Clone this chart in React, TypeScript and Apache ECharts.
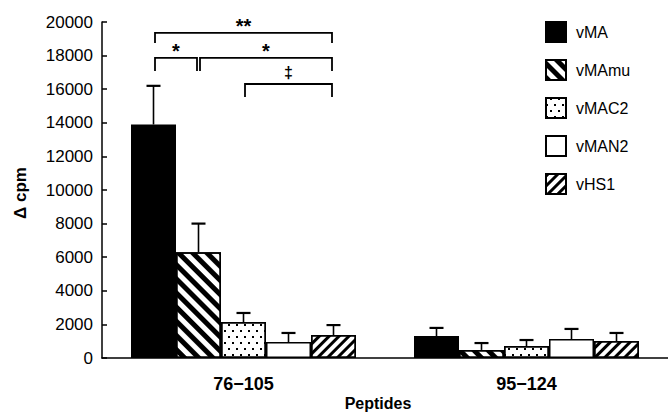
import React, { useEffect, useRef } from "react";
import * as echarts from "echarts";

const categories = ["76\u2212105", "95\u2212124"];
const seriesNames = ["vMA", "vMAmu", "vMAC2", "vMAN2", "vHS1"];
const vMA = [13900, 1310];
const vMAmu = [6300, 480];
const vMAC2 = [2140, 710];
const vMAN2 = [950, 1130];
const vHS1 = [1370, 1010];
const vMAErrTop = [16200, 1790];
const vMAmuErrTop = [8000, 890];
const vMAC2ErrTop = [2680, 1070];
const vMAN2ErrTop = [1490, 1730];
const vHS1ErrTop = [1960, 1490];
const yTicks = [0, 20000, 2000];
// significance brackets: [category, fromBar, toBar, level, tickBottom]
const bracketLevels = [
  [0, 0, 4, 19350, 18750],
  [0, 0, 1, 17860, 17080],
  [0, 1, 4, 17860, 17080],
  [0, 2, 4, 16310, 15540],
];
const bracketLabels = ["**", "*", "*", "\u2021"];

const BAR_W = 45;
const FONT = "Liberation Sans, Arial, sans-serif";

const decals: any[] = [
  null,
  { symbol: "rect", symbolSize: 1, color: "#000", backgroundColor: "#fff", dashArrayX: [1, 0], dashArrayY: [5, 5], rotation: Math.PI / 4 },
  { symbol: "rect", symbolSize: 1, color: "#000", backgroundColor: "#fff", dashArrayX: [[2, 6], [0, 4, 2, 2]], dashArrayY: [2, 4], rotation: 0 },
  null,
  { symbol: "rect", symbolSize: 1, color: "#000", backgroundColor: "#fff", dashArrayX: [1, 0], dashArrayY: [3, 4], rotation: -Math.PI / 4 },
];

export default function App() {
  const ref = useRef<HTMLDivElement>(null);
  useEffect(() => {
    if (!ref.current) return;
    const chart = echarts.init(ref.current, undefined, { renderer: "svg" });
    const values = [vMA, vMAmu, vMAC2, vMAN2, vHS1];
    const errs = [vMAErrTop, vMAmuErrTop, vMAC2ErrTop, vMAN2ErrTop, vHS1ErrTop];
    const errData: number[][] = [];
    values.forEach((arr, s) => arr.forEach((v, c) => errData.push([c, s, v, errs[s][c]])));

    const barSeries = seriesNames.map((name, s) => ({
      name,
      type: "bar",
      data: values[s],
      barWidth: BAR_W,
      barGap: "0%",
      itemStyle: {
        color: s === 0 ? "#000" : "#fff",
        borderColor: "#000",
        borderWidth: 1.5,
        ...(decals[s] ? { decal: decals[s] } : {}),
      },
    }));

    chart.setOption({
      animation: false,
      backgroundColor: "#fff",
      grid: { left: 102, right: -6, top: 22, bottom: 58 },
      legend: {
        data: seriesNames,
        orient: "vertical",
        left: 540,
        top: 16,
        itemWidth: 20,
        itemHeight: 20,
        itemGap: 16,
        icon: "rect",
        textStyle: { fontFamily: FONT, fontSize: 16, color: "#000", padding: [0, 0, 0, 5] },
      },
      graphic: [
        {
          type: "text",
          x: 20,
          y: 193,
          rotation: Math.PI / 2,
          style: {
            text: "\u0394 cpm",
            textAlign: "center",
            textVerticalAlign: "middle",
            fontFamily: FONT,
            fontSize: 17,
            fontWeight: "bold",
            fill: "#000",
          },
        },
        {
          type: "text",
          x: 378,
          y: 403,
          style: {
            text: "Peptides",
            textAlign: "center",
            textVerticalAlign: "middle",
            fontFamily: FONT,
            fontSize: 16,
            fontWeight: "bold",
            fill: "#000",
          },
        },
      ],
      xAxis: {
        type: "category",
        data: categories,
        axisLine: { lineStyle: { color: "#000", width: 1.5 } },
        axisTick: { show: false },
        axisLabel: { fontFamily: FONT, fontSize: 18, fontWeight: "bold", color: "#000", margin: 17 },
      },
      yAxis: {
        type: "value",
        min: yTicks[0],
        max: yTicks[1],
        interval: yTicks[2],
        axisLine: { show: true, lineStyle: { color: "#000", width: 1.5 } },
        axisTick: { show: true, inside: true, length: 5, lineStyle: { color: "#000", width: 1.5 } },
        splitLine: { show: false },
        axisLabel: { fontFamily: FONT, fontSize: 17, color: "#000", margin: 9, formatter: (v: number) => String(v) },
      },
      series: [
        ...barSeries,
        {
          type: "custom",
          name: "errors",
          z: 5,
          encode: { x: 0, y: [2, 3] },
          data: errData,
          renderItem: (params: any, api: any) => {
            const c = api.value(0);
            const s = api.value(1);
            const p0 = api.coord([c, api.value(2)]);
            const p1 = api.coord([c, api.value(3)]);
            const x = p0[0] + (s - 2) * BAR_W;
            return {
              type: "group",
              children: [
                { type: "line", shape: { x1: x, y1: p0[1], x2: x, y2: p1[1] }, style: { stroke: "#000", lineWidth: 1.6 } },
                { type: "line", shape: { x1: x - 7, y1: p1[1], x2: x + 7, y2: p1[1] }, style: { stroke: "#000", lineWidth: 2.2 } },
              ],
            };
          },
        },
        {
          type: "custom",
          name: "brackets",
          z: 6,
          encode: { x: 0, y: 3 },
          data: bracketLevels,
          renderItem: (params: any, api: any) => {
            const c = api.value(0);
            const f = api.value(1);
            const t = api.value(2);
            const top = api.coord([c, api.value(3)]);
            const bot = api.coord([c, api.value(4)]);
            const x1 = top[0] + (f - 2) * BAR_W + 1.5;
            const x2 = top[0] + (t - 2) * BAR_W - 1.5;
            const y = top[1];
            const label = bracketLabels[params.dataIndex];
            return {
              type: "group",
              children: [
                {
                  type: "polyline",
                  shape: { points: [[x1, bot[1]], [x1, y], [x2, y], [x2, bot[1]]] },
                  style: { stroke: "#000", lineWidth: 1.8, fill: "none" },
                },
                {
                  type: "text",
                  style: {
                    text: label,
                    x: (x1 + x2) / 2,
                    y: label === "\u2021" ? y - 11 : y - 7,
                    textAlign: "center",
                    textVerticalAlign: "middle",
                    fontFamily: FONT,
                    fontSize: label === "\u2021" ? 16 : 20,
                    fontWeight: "bold",
                    fill: "#000",
                  },
                },
              ],
            };
          },
        },
      ],
    });
    return () => chart.dispose();
  }, []);
  return <div ref={ref} style={{ position: "fixed", left: 0, top: 0, width: 668, height: 416 }} />;
}
